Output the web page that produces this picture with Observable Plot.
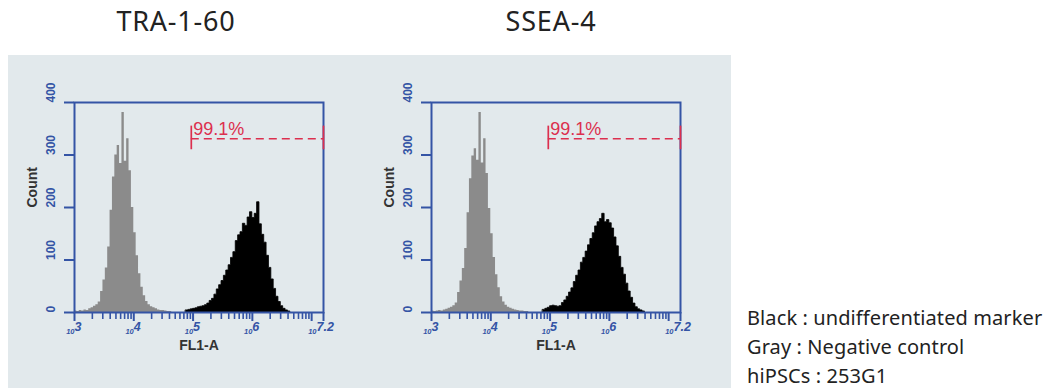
<!DOCTYPE html>
<html>
<head>
<meta charset="utf-8">
<script src="https://cdn.jsdelivr.net/npm/d3@7"></script>
<script src="https://cdn.jsdelivr.net/npm/@observablehq/plot@0.6"></script>
<style>
  html, body { margin: 0; padding: 0; background: #ffffff; }
  #root { position: relative; width: 1043px; height: 388px; overflow: hidden; font-family: "Noto Sans", sans-serif; }
  #panel { position: absolute; left: 8px; top: 55px; width: 723px; height: 333px; background: #e2e9ec; }
  .title { position: absolute; top: 2px; font-size: 27px; color: #222; letter-spacing: 0.8px; transform: translateX(-50%); white-space: nowrap; }
  .plot { position: absolute; top: 80px; }
  #legend { position: absolute; left: 747px; top: 303px; font-size: 20px; line-height: 29px; color: #222; white-space: nowrap; letter-spacing: 0.1px; }
</style>
</head>
<body>
<div id="root">
  <div id="panel"></div>
  <div id="legend"></div>
</div>
<script>
// ---- data ----
const binWidth = 0.04;        // bin width in log10 units
const grayStart = 3.00;       // log10 of first gray bin
const blackStart = 4.88;      // log10 of first black bin

const titles = ["TRA-1-60", "SSEA-4"];
const gateLabels = ["99.1%", "99.1%"];

const grayTRA = [3,2,4,3,5,4,7,9,12,15, 20,40,62,85,125,195,258,300,318,284,
                 381,288,331,270,200,152,108,74,48,32, 21,15,11,9,7,5,4,4,3,2, 2];
const blackTRA = [4,5,6,7,8,10,11,12,14,17, 22,26,34,44,52,60,70,80,90,104,
                  115,136,147,153,169,165,181,191,180,188, 210,168,148,133,108,85,63,45,30,20,
                  12,7,4,2];
const graySSEA = [3,2,3,4,3,5,6,8,10,13, 18,38,60,84,122,190,255,298,312,290,
                  381,285,331,265,198,150,105,72,47,30, 20,14,10,8,6,5,4,3,3,2, 2];
const blackSSEA = [5,7,9,12,13,12,11,12,18,23, 30,38,46,58,70,80,95,104,116,128,
                   140,151,164,172,178,188,172,176,170,160, 143,126,106,85,72,55,40,28,17,10,
                   6,4,2];

const yTicks = [0, 100, 200, 300, 400];
const xLabelExps = [3, 4, 5, 6];
const xMinExp = 3, xEndExp = 7.2;
const xMajorExps = [3, 4, 5, 6, 7, 7.2];
const yMax = 400;
const gateStartExp = 4.97;
const gateLevel = 331;
const gateLabelLevel = 350;
const gateMarkLow = 310, gateMarkHigh = 355;

const legendLines = ["Black : undifferentiated marker", "Gray : Negative control", "hiPSCs : 253G1"];

// ---- styles / layout ----
const blue = "#3454a5";
const red = "#dc2f4e";
const grayFill = "#8b8b8b";
const W = 330, H = 290, ML = 54, MR = 27, MT = 22, MB = 58;
const FW = W - ML - MR, FH = H - MT - MB;
// tick lengths (pixels) expressed in scale units so that they point outward from the frame
const majorLen = 9 * yMax / FH;
const minorLen = 7 * yMax / FH;
const yTickEnd = 10 ** (xMinExp - 10 * (xEndExp - xMinExp) / FW);

const minorTicks = [];
for (let d = 3; d <= 6; d++) for (let k = 2; k <= 9; k++) minorTicks.push(k * 10 ** d);

// step outline points: left edge of each bin, then the right edge of the last bin back to zero
function steps(arr, start) {
  const pts = arr.map((v, i) => ({x: 10 ** (start + i * binWidth), y: v}));
  pts.push({x: 10 ** (start + arr.length * binWidth), y: 0});
  return pts;
}

function panel(gray, black, gateLabel) {
  return Plot.plot({
    width: W, height: H,
    marginLeft: ML, marginRight: MR, marginTop: MT, marginBottom: MB,
    x: {type: "log", domain: [10 ** xMinExp, 10 ** xEndExp], axis: null},
    y: {domain: [0, yMax], axis: null},
    style: {background: "transparent", fontFamily: "'Liberation Sans', Arial, sans-serif", overflow: "visible"},
    marks: [
      Plot.areaY(steps(gray, grayStart), {x: "x", y: "y", curve: "step-after", fill: grayFill}),
      Plot.areaY(steps(black, blackStart), {x: "x", y: "y", curve: "step-after", fill: "#000", stroke: "#000", strokeWidth: 0.8}),
      // outward ticks
      Plot.ruleY(yTicks, {y: d => d, x1: 10 ** xMinExp, x2: yTickEnd, stroke: blue, strokeWidth: 2}),
      Plot.ruleX(xMajorExps.map(e => 10 ** e), {x: d => d, y1: 0, y2: -majorLen, stroke: blue, strokeWidth: 2}),
      Plot.ruleX(minorTicks, {x: d => d, y1: 0, y2: -minorLen, stroke: blue, strokeWidth: 1.6}),
      Plot.frame({stroke: blue, strokeWidth: 2}),
      // labels
      Plot.text(yTicks, {y: d => d, text: d => String(d), frameAnchor: "left", dx: -23, rotate: -90, fontSize: 12, fontWeight: "bold", fill: blue}),
      Plot.text(["Count"], {frameAnchor: "left", dx: -42, rotate: -90, fontSize: 14, fontWeight: "bold", fill: "#333"}),
      Plot.text(xLabelExps, {x: d => 10 ** d, text: () => "10", frameAnchor: "bottom", textAnchor: "end", dy: 21, fontSize: 7.5, fontStyle: "italic", fontWeight: "bold", fill: blue}),
      Plot.text(xLabelExps, {x: d => 10 ** d, text: d => String(d), frameAnchor: "bottom", textAnchor: "start", dy: 18, fontSize: 12.5, fontStyle: "italic", fontWeight: "bold", fill: blue}),
      Plot.text([xEndExp], {x: d => 10 ** d, text: () => "10", frameAnchor: "bottom", textAnchor: "end", dx: -7, dy: 21, fontSize: 7.5, fontStyle: "italic", fontWeight: "bold", fill: blue}),
      Plot.text([xEndExp], {x: d => 10 ** d, text: d => String(d), frameAnchor: "bottom", textAnchor: "start", dx: -7, dy: 18, fontSize: 12.5, fontStyle: "italic", fontWeight: "bold", fill: blue}),
      Plot.text(["FL1-A"], {frameAnchor: "bottom", dy: 37, fontSize: 14, fontWeight: "bold", fill: "#333"}),
      // gate
      Plot.ruleY([gateLevel], {x1: 10 ** gateStartExp, x2: 10 ** xEndExp, stroke: red, strokeWidth: 1.7, strokeDasharray: "8,5"}),
      Plot.ruleX([10 ** gateStartExp, 10 ** xEndExp], {x: d => d, y1: gateMarkLow, y2: gateMarkHigh, stroke: red, strokeWidth: 1.7}),
      Plot.text([gateLabel], {x: 10 ** gateStartExp, y: gateLabelLevel, textAnchor: "start", dx: 2, fontSize: 18, fill: red})
    ]
  });
}

const root = document.getElementById("root");
const data = [[grayTRA, blackTRA], [graySSEA, blackSSEA]];
const lefts = [20, 377];
const titleCenters = [176, 551];
data.forEach(([g, b], i) => {
  const div = document.createElement("div");
  div.className = "plot";
  div.style.left = lefts[i] + "px";
  div.appendChild(panel(g, b, gateLabels[i]));
  root.appendChild(div);
  const t = document.createElement("div");
  t.className = "title";
  t.style.left = titleCenters[i] + "px";
  t.textContent = titles[i];
  root.appendChild(t);
});
const legend = document.getElementById("legend");
legendLines.forEach(s => { const d = document.createElement("div"); d.textContent = s; legend.appendChild(d); });
</script>
</body>
</html>
